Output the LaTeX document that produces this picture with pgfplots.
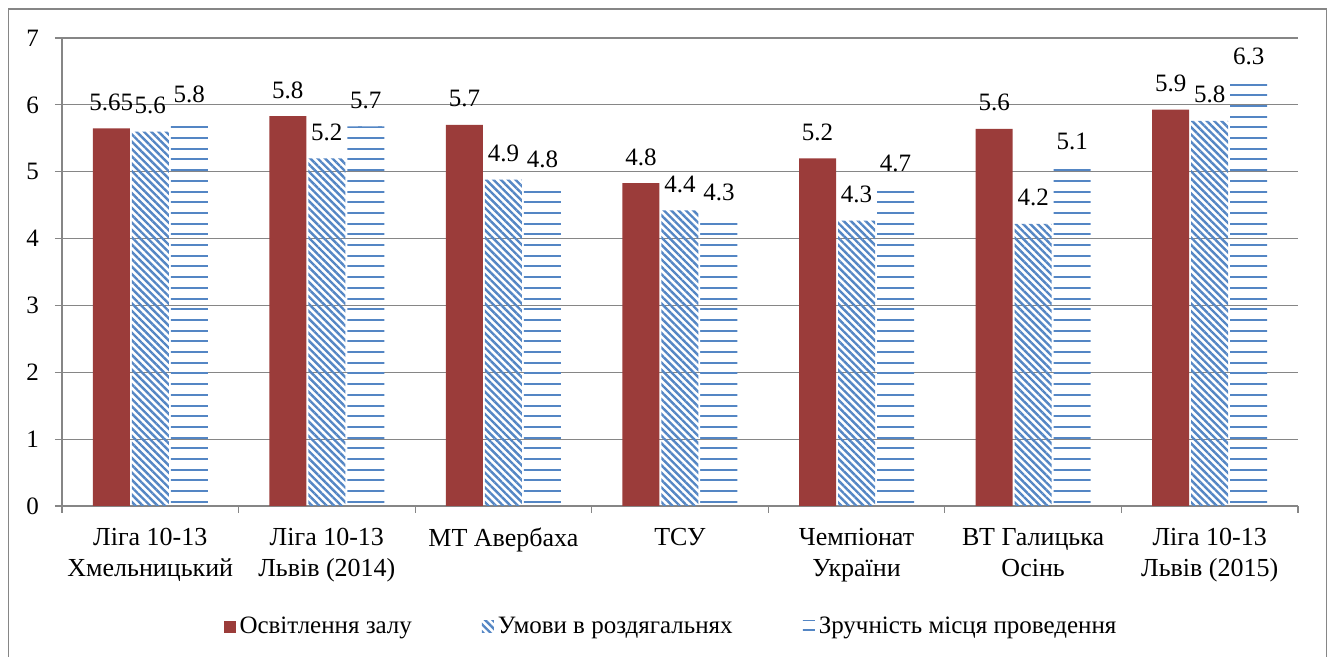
\documentclass[border=0pt]{standalone}
\usepackage{pgfplots}
\pgfplotsset{compat=1.18}
\usepackage{pgfplotstable}
\usepackage{fontspec}
\setmainfont{Liberation Serif}
\usetikzlibrary{patterns.meta}
\definecolor{barred}{RGB}{155,60,58}
\definecolor{barblue}{RGB}{84,134,196}
\definecolor{gridgray}{RGB}{134,134,134}

\pgfdeclarepatternformonly{hstripes}{\pgfpoint{-1pt}{-1pt}}{\pgfpoint{11pt}{6.35pt}}{\pgfpoint{10pt}{5.35pt}}{%
  \pgfpathrectangle{\pgfpoint{-1pt}{2.175pt}}{\pgfpoint{12pt}{1pt}}\pgfusepath{fill}}

\pgfplotstableread{
x y lab
0 5.65 5.65
1 5.83 5.8
2 5.70 5.7
3 4.83 4.8
4 5.20 5.2
5 5.64 5.6
6 5.93 5.9
}\osv
\pgfplotstableread{
x y lab
0 5.60 5.6
1 5.20 5.2
2 4.88 4.9
3 4.42 4.4
4 4.27 4.3
5 4.22 4.2
6 5.76 5.8
}\umovy
\pgfplotstableread{
x y lab
0 5.77 5.8
1 5.68 5.7
2 4.80 4.8
3 4.30 4.3
4 4.74 4.7
5 5.07 5.1
6 6.34 6.3
}\zruch

\begin{document}
\begin{tikzpicture}
\useasboundingbox (0,0) rectangle (666.5pt,328.5pt);
\draw[gridgray, line width=0.75pt] (4.25pt,-10pt) rectangle (663.25pt,324pt);
\begin{axis}[
  at={(31pt,75.5pt)}, anchor=south west,
  width=618pt, height=234pt, scale only axis,
  xmin=-0.5, xmax=6.5, ymin=0, ymax=7,
  enlargelimits=false,
  ybar=1pt, bar width=18.5pt,
  axis x line*=bottom, axis y line*=left,
  axis line style={draw=gridgray, line width=0.6pt},
  ytick={0,1,...,7},
  ymajorgrids, grid style={gridgray, line width=0.6pt},
  tick align=outside, major tick length=3.5pt,
  ytick style={draw=gridgray, line width=0.6pt},
  xtick style={draw=none},
  xtick={0,...,6},
  xticklabels={{Ліга 10-13\\Хмельницький},{Ліга 10-13\\Львів (2014)},{МТ Авербаха},{ТСУ},{Чемпіонат\\України},{ВТ Галицька\\Осінь},{Ліга 10-13\\Львів (2015)}},
  xticklabel style={align=center, font=\fontsize{13}{15.5}\selectfont, anchor=north, yshift=-4pt},
  extra x ticks={-0.5,0.5,...,6.5},
  extra x tick labels={},
  extra x tick style={grid=none, xtick style={draw=gridgray, line width=0.6pt}},
  yticklabel style={font=\fontsize{12.5}{14}\selectfont, xshift=-4.5pt},
  /pgf/number format/assume math mode=true,
  point meta=explicit symbolic,
  nodes near coords,
  nodes near coords style={font=\fontsize{12.5}{14}\selectfont, anchor=base, inner sep=0pt, yshift=9pt, text=black},
  legend columns=-1,
  legend style={at={(0.4935,-0.2585)}, anchor=center, draw=none, fill=none,
    font=\fontsize{12.5}{14}\selectfont,
    /tikz/every even column/.append style={column sep=33pt}},
  legend image code/.code={\fill[#1] (0pt,-3pt) rectangle (6pt,3pt);},
]
\addplot[fill=barred, draw=none] table[x=x, y=y, meta=lab] {\osv};
\addlegendentry{Освітлення залу}
\addplot[draw=none, pattern={Lines[angle=-45,distance=2.6pt,line width=1.2pt]}, pattern color=barblue] table[x=x, y=y, meta=lab] {\umovy};
\addlegendentry{Умови в роздягальнях}
\addplot[draw=none, pattern=hstripes, pattern color=barblue] table[x=x, y=y, meta=lab] {\zruch};
\addlegendentry{Зручність місця проведення}
\end{axis}
\end{tikzpicture}
\end{document}
